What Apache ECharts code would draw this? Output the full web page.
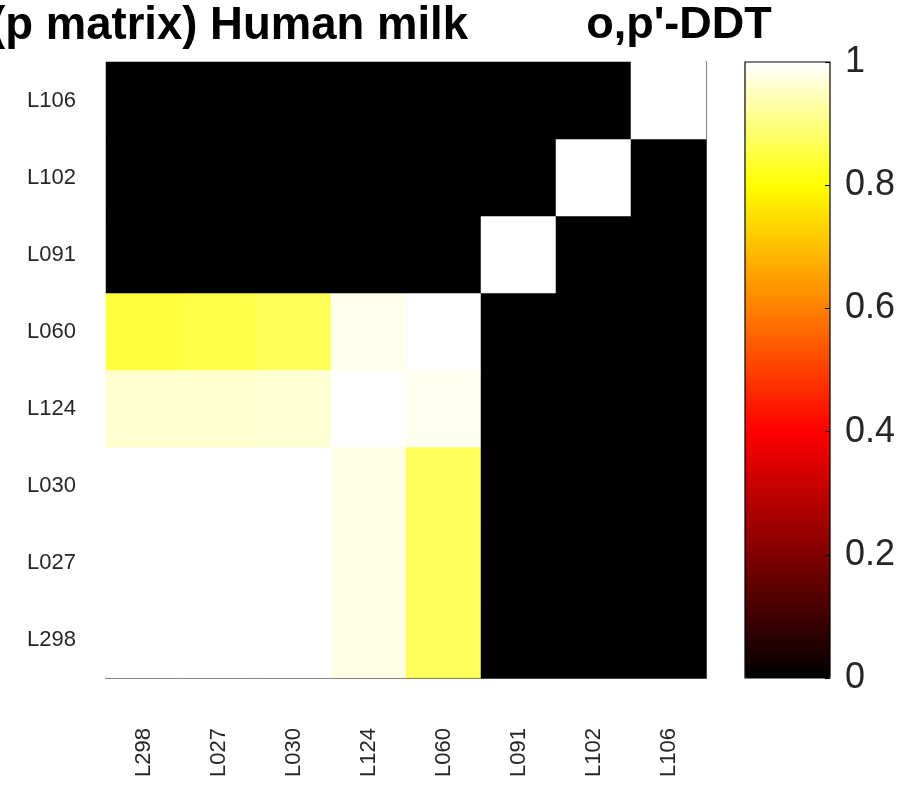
<!DOCTYPE html>
<html>
<head>
<meta charset="utf-8">
<script src="https://cdn.jsdelivr.net/npm/echarts@6/dist/echarts.min.js"></script>
<style>
html,body{margin:0;padding:0;background:#fff;}
#chart{width:913px;height:800px;}
</style>
</head>
<body>
<div id="chart"></div>
<script>
// Categories (x: left->right, y: bottom->top)
var categories = ['L298', 'L027', 'L030', 'L124', 'L060', 'L091', 'L102', 'L106'];

// Matrix rows, one per y category (bottom -> top), values per x category
var rowL298 = [1.000, 1.000, 1.000, 0.980, 0.872, 0, 0, 0];
var rowL027 = [1.000, 1.000, 1.000, 0.980, 0.872, 0, 0, 0];
var rowL030 = [1.000, 1.000, 1.000, 0.980, 0.872, 0, 0, 0];
var rowL124 = [0.962, 0.962, 0.968, 1.000, 0.988, 0, 0, 0];
var rowL060 = [0.848, 0.856, 0.868, 0.984, 1.000, 0, 0, 0];
var rowL091 = [0, 0, 0, 0, 0, 1.000, 0, 0];
var rowL102 = [0, 0, 0, 0, 0, 0, 1.000, 0];
var rowL106 = [0, 0, 0, 0, 0, 0, 0, 1.000];

var matrixRows = [rowL298, rowL027, rowL030, rowL124, rowL060, rowL091, rowL102, rowL106];

// Colorbar tick values
var colorbarTicks = [0, 0.2, 0.4, 0.6, 0.8, 1];

// "hot"-style colormap stops (evenly spaced, 0 .. 1)
var hotColors = ['#000000', '#400000', '#800000', '#bf0000', '#ff0000', '#ff4000', '#ff8000', '#ffbf00', '#ffff00', '#ffff80', '#ffffff'];

var titleLeft = '(p matrix) Human milk';
var titleRight = "o,p'-DDT";

var data = [];
for (var yi = 0; yi < matrixRows.length; yi++) {
  for (var xi = 0; xi < categories.length; xi++) {
    data.push([xi, yi, matrixRows[yi][xi]]);
  }
}

var FONT = 'Liberation Sans, Arial, Helvetica, sans-serif';
var chart = echarts.init(document.getElementById('chart'), null, {renderer: 'canvas'});

chart.setOption({
  backgroundColor: '#ffffff',
  animation: false,
  graphic: [
    {type: 'text', x: 468, y: 26, style: {text: titleLeft, font: 'bold 45.5px ' + FONT, fill: '#000', textAlign: 'right', textVerticalAlign: 'middle'}},
    {type: 'text', x: 679, y: 26, style: {text: titleRight, font: 'bold 45px ' + FONT, fill: '#000', textAlign: 'center', textVerticalAlign: 'middle'}}
  ],
  grid: [
    {left: 106, width: 600, top: 62, height: 616, containLabel: false},
    {left: 745, width: 85, top: 62, height: 616, show: true, borderColor: '#000', borderWidth: 1.2, backgroundColor: 'transparent', z: 10}
  ],
  xAxis: [
    {
      type: 'category', gridIndex: 0, data: categories, position: 'bottom',
      axisLine: {show: true, lineStyle: {color: '#222', width: 1.5}},
      axisTick: {show: false},
      splitLine: {show: false},
      axisLabel: {rotate: 90, fontSize: 22, color: '#262626', fontFamily: FONT, margin: 50}
    },
    {type: 'category', gridIndex: 1, data: [''], show: false}
  ],
  yAxis: [
    {
      type: 'category', gridIndex: 0, data: categories, position: 'left',
      axisLine: {show: false},
      axisTick: {show: false},
      splitLine: {show: false},
      axisLabel: {fontSize: 22, color: '#262626', fontFamily: FONT, margin: 30}
    },
    {
      type: 'category', gridIndex: 0, data: categories, position: 'right',
      axisLine: {show: true, onZero: false, lineStyle: {color: '#222', width: 1.5}},
      axisTick: {show: false}, axisLabel: {show: false}, splitLine: {show: false}
    },
    {
      type: 'value', gridIndex: 1, min: colorbarTicks[0], max: colorbarTicks[colorbarTicks.length - 1],
      interval: 0.2, position: 'right', z: 10,
      axisLine: {show: false, onZero: false},
      axisTick: {show: true, inside: true, length: 5, lineStyle: {color: '#000', width: 1}},
      splitLine: {show: false},
      axisLabel: {fontSize: 36, color: '#262626', fontFamily: FONT, margin: 15}
    }
  ],
  visualMap: {
    type: 'continuous',
    min: 0, max: 1,
    seriesIndex: 0,
    calculable: false,
    hoverLink: false,
    orient: 'vertical',
    left: 745, top: 62,
    itemWidth: 85, itemHeight: 616,
    padding: 0,
    text: null,
    showLabel: false,
    inRange: {color: hotColors}
  },
  series: [{
    type: 'heatmap',
    xAxisIndex: 0, yAxisIndex: 0,
    data: data,
    itemStyle: {borderWidth: 0},
    emphasis: {disabled: true},
    progressive: 0
  }]
});
</script>
</body>
</html>
